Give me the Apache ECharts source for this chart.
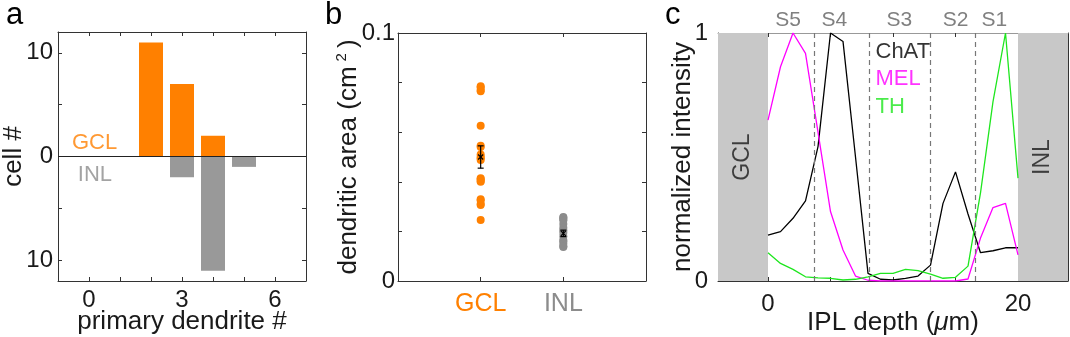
<!DOCTYPE html>
<html><head><meta charset="utf-8">
<script src="https://cdn.jsdelivr.net/npm/echarts@6/dist/echarts.min.js"></script>
<style>html,body{margin:0;padding:0;background:#fff}#c{width:1070px;height:337px}</style>
</head><body><div id="c"></div>
<script>
// ---------- Panel a: number of primary dendrites ----------
const aGCLDendrites = [2, 3, 4];
const aGCLCells = [11, 7, 2];
const aINLDendrites = [3, 4, 5];
const aINLCells = [2, 11, 1];
const aXTicks = [0, 1, 2, 3, 4, 5, 6];
const aXLabels = [0, 3, 6];
const aYTicks = [-10, -5, 0, 5, 10];
const aYLabels = [-10, 0, 10];

// ---------- Panel b: dendritic area ----------
const bCategories = ['GCL', 'INL'];
const bGCLArea = [0.0785, 0.078, 0.077, 0.0765, 0.0626, 0.0545, 0.054, 0.051, 0.050, 0.0495,
                  0.0488, 0.0414, 0.041, 0.0403, 0.040, 0.033, 0.0325, 0.031, 0.0306, 0.0246];
const bINLArea = [0.0258, 0.0255, 0.025, 0.0245, 0.023, 0.0215, 0.0205, 0.0195, 0.018, 0.0165,
                  0.016, 0.015, 0.014, 0.0137];
const bMean = [0.050, 0.0192];
const bSEM = [0.0045, 0.0013];
const bYTicks = [0, 0.02, 0.04, 0.06, 0.08, 0.1];
const bYLabels = [0, 0.1];

// ---------- Panel c: IPL stratification ----------
const cDepth = [0, 1, 2, 3, 4, 5, 6, 7, 8, 9, 10, 11, 12, 13, 14, 15, 16, 17, 18, 19, 20];
const cChAT = [0.185, 0.199, 0.253, 0.323, 0.542, 1.0, 0.966, 0.5, 0.031, 0.007, 0.004,
               0.011, 0.02, 0.064, 0.313, 0.44, 0.27, 0.114, 0.122, 0.134, 0.134];
const cMEL = [0.649, 0.864, 1.0, 0.918, 0.6, 0.28, 0.125, 0.02, 0.003, 0, 0,
              0, 0, 0, 0, 0, 0.008, 0.173, 0.296, 0.313, 0.105];
const cTH = [0.114, 0.071, 0.047, 0.017, 0.013, 0.011, 0.004, 0.007, 0.017, 0.031, 0.031,
             0.047, 0.042, 0.028, 0.011, 0.015, 0.06, 0.355, 0.723, 1.0, 0.415];
const cStrataBounds = [3.7, 8.1, 13.0, 16.6];
const cStrataNames = ['S5', 'S4', 'S3', 'S2', 'S1'];
const cStrataCenters = [1.6, 5.3, 10.5, 15.0, 18.1];
const cXTicks = [0, 5, 10, 15, 20];
const cXLabels = [0, 20];
const cYTicks = [0, 0.2, 0.4, 0.6, 0.8, 1];
const cYLabels = [0, 1];

const FONT = '"Liberation Sans", Arial, Helvetica, sans-serif';
const ORANGE = '#ff8000';
const GRAY = '#999999';
const AX = '#333333';
const TXT = '#1a1a1a';

function xAx(grid, min, max, ticks, labels, extra) {
  return Object.assign({
    type: 'value', gridIndex: grid, min: min, max: max, position: 'bottom',
    nameMoveOverlap: false,
    axisLine: { show: true, onZero: false, lineStyle: { color: AX, width: 1 } },
    axisTick: { show: true, inside: true, length: 4, customValues: ticks, lineStyle: { color: AX } },
    axisLabel: { show: true, customValues: labels, fontSize: 24, color: TXT, fontFamily: FONT, margin: 7 },
    splitLine: { show: false }
  }, extra || {});
}
function topAx(grid, min, max, ticks) {
  return {
    type: 'value', gridIndex: grid, min: min, max: max, position: 'top',
    axisLine: { show: true, onZero: false, lineStyle: { color: AX, width: 1 } },
    axisTick: { show: true, inside: true, length: 4, customValues: ticks, lineStyle: { color: AX } },
    axisLabel: { show: false }, splitLine: { show: false }
  };
}
function yAx(grid, min, max, ticks, labels, extra) {
  return Object.assign({
    type: 'value', gridIndex: grid, min: min, max: max, position: 'left',
    nameMoveOverlap: false,
    axisLine: { show: true, onZero: false, lineStyle: { color: AX, width: 1 } },
    axisTick: { show: true, inside: true, length: 4, customValues: ticks, lineStyle: { color: AX } },
    axisLabel: { show: true, customValues: labels, fontSize: 24, color: TXT, fontFamily: FONT, margin: 5 },
    splitLine: { show: false }
  }, extra || {});
}
function rightAx(grid, min, max, ticks) {
  return {
    type: 'value', gridIndex: grid, min: min, max: max, position: 'right',
    axisLine: { show: true, onZero: false, lineStyle: { color: AX, width: 1 } },
    axisTick: { show: true, inside: true, length: 4, customValues: ticks, lineStyle: { color: AX } },
    axisLabel: { show: false }, splitLine: { show: false }
  };
}

const nameStyle = { fontSize: 26, color: TXT, fontFamily: FONT };

const option = {
  animation: false,
  backgroundColor: '#ffffff',
  textStyle: { fontFamily: FONT },
  grid: [
    { left: 58, top: 32, width: 248, height: 249, outerBoundsMode: 'none', containLabel: false },
    { left: 398, top: 33, width: 248, height: 248, outerBoundsMode: 'none', containLabel: false },
    { left: 718, top: 33, width: 350, height: 248, outerBoundsMode: 'none', containLabel: false }
  ],
  xAxis: [
    xAx(0, -1, 7, aXTicks, aXLabels, {
      name: 'primary dendrite #', nameLocation: 'middle', nameGap: 28, nameTextStyle: nameStyle
    }),
    topAx(0, -1, 7, aXTicks),
    xAx(1, 0, 3, [1, 2], [1, 2], {
      axisLabel: {
        show: true, customValues: [1, 2], fontSize: 25, fontFamily: FONT, margin: 11,
        formatter: function (v) { return bCategories[Math.round(v) - 1]; },
        color: function (v) { return Math.round(v) === 1 ? ORANGE : '#8c8c8c'; }
      }
    }),
    topAx(1, 0, 3, [1, 2]),
    xAx(2, -4, 24, cXTicks, cXLabels, {
      axisLabel: { show: true, customValues: cXLabels, fontSize: 24, color: TXT, fontFamily: FONT, margin: 11 },
      name: '{n|IPL depth (}{i|μ}{n|m)}', nameLocation: 'middle', nameGap: 29,
      nameTextStyle: {
        rich: {
          n: { fontSize: 26, color: TXT, fontFamily: FONT },
          i: { fontSize: 26, color: TXT, fontFamily: FONT, fontStyle: 'italic' }
        }
      }
    }),
    Object.assign(topAx(2, -4, 24, cXTicks), {
      axisLine: { show: true, onZero: false, lineStyle: { color: '#999', width: 1 } },
      axisLabel: {
        show: true, customValues: cStrataCenters, fontSize: 21, color: '#808080', fontFamily: FONT, margin: 2,
        formatter: function (v) {
          let best = 0;
          cStrataCenters.forEach(function (c, i) { if (Math.abs(c - v) < Math.abs(cStrataCenters[best] - v)) best = i; });
          return cStrataNames[best];
        }
      }
    })
  ],
  yAxis: [
    yAx(0, -12, 12, aYTicks, aYLabels, {
      axisLabel: { show: true, customValues: aYLabels, fontSize: 24, color: TXT, fontFamily: FONT, margin: 5,
        formatter: function (v) { return String(Math.abs(v)); } },
      name: 'cell #', nameLocation: 'middle', nameRotate: 90, nameGap: 31, nameTextStyle: nameStyle
    }),
    rightAx(0, -12, 12, aYTicks),
    yAx(1, 0, 0.1, bYTicks, bYLabels, {
      axisLabel: { show: true, customValues: bYLabels, fontSize: 24, color: TXT, fontFamily: FONT, margin: 3,
        formatter: function (v) { return v === 0 ? '0' : String(v); } },
      name: '{n|dendritic area (cm}{s|2}{n|)}', nameLocation: 'middle', nameRotate: 90, nameGap: 34,
      nameTextStyle: {
        rich: {
          n: { fontSize: 26, color: TXT, fontFamily: FONT, lineHeight: 30 },
          s: { fontSize: 15, color: TXT, fontFamily: FONT, verticalAlign: 'top', lineHeight: 30, padding: [0, 5, 0, 5] }
        }
      }
    }),
    rightAx(1, 0, 0.1, bYTicks),
    yAx(2, 0, 1, cYTicks, cYLabels, {
      axisLabel: { show: true, customValues: cYLabels, fontSize: 24, color: TXT, fontFamily: FONT, margin: 10 },
      name: 'normalized intensity', nameLocation: 'middle', nameRotate: 90, nameGap: 22, nameTextStyle: nameStyle
    }),
    rightAx(2, 0, 1, cYTicks)
  ],
  series: [
    // ---- panel a ----
    {
      type: 'bar', xAxisIndex: 0, yAxisIndex: 0, barWidth: 24, barGap: '-100%',
      data: aGCLDendrites.map(function (d, i) { return [d, aGCLCells[i]]; }),
      itemStyle: { color: ORANGE },
      markLine: {
        silent: true, symbol: 'none', label: { show: false },
        lineStyle: { color: '#222', width: 1, type: 'solid' },
        data: [{ yAxis: 0 }]
      },
      z: 2
    },
    {
      type: 'bar', xAxisIndex: 0, yAxisIndex: 0, barWidth: 24, barGap: '-100%',
      data: aINLDendrites.map(function (d, i) { return [d, -aINLCells[i]]; }),
      itemStyle: { color: GRAY },
      z: 2
    },
    {
      type: 'scatter', xAxisIndex: 0, yAxisIndex: 0, symbolSize: 0, silent: true,
      data: [[-0.55, 1.3, 'GCL'], [-0.36, -1.8, 'INL']],
      label: {
        show: true, position: 'inside', align: 'left', fontSize: 22, fontFamily: FONT,
        formatter: function (p) { return '{t' + p.dataIndex + '|' + p.value[2] + '}'; },
        rich: { t0: { color: ORANGE, fontSize: 22 }, t1: { color: '#8c8c8c', fontSize: 22 } }
      }
    },
    // ---- panel b ----
    {
      type: 'scatter', xAxisIndex: 2, yAxisIndex: 2, symbolSize: 8,
      data: bGCLArea.map(function (v) { return [1, v]; }),
      itemStyle: { color: ORANGE, opacity: 1 }
    },
    {
      type: 'scatter', xAxisIndex: 2, yAxisIndex: 2, symbolSize: 8,
      data: bINLArea.map(function (v) { return [2, v]; }),
      itemStyle: { color: '#8c8c8c', opacity: 1 }
    },
    {
      type: 'custom', xAxisIndex: 2, yAxisIndex: 2, z: 5,
      data: bMean.map(function (m, i) { return [i + 1, m, bSEM[i]]; }),
      renderItem: function (params, api) {
        const x = api.value(0), m = api.value(1), e = api.value(2);
        const p = api.coord([x, m]), hi = api.coord([x, m + e]), lo = api.coord([x, m - e]);
        const cap = 3, s = 2.5, st = { stroke: '#000', lineWidth: 1.2 };
        return {
          type: 'group', children: [
            { type: 'line', shape: { x1: p[0], y1: hi[1], x2: p[0], y2: lo[1] }, style: st },
            { type: 'line', shape: { x1: p[0] - cap, y1: hi[1], x2: p[0] + cap, y2: hi[1] }, style: st },
            { type: 'line', shape: { x1: p[0] - cap, y1: lo[1], x2: p[0] + cap, y2: lo[1] }, style: st },
            { type: 'line', shape: { x1: p[0] - s, y1: p[1] - s, x2: p[0] + s, y2: p[1] + s }, style: st },
            { type: 'line', shape: { x1: p[0] - s, y1: p[1] + s, x2: p[0] + s, y2: p[1] - s }, style: st }
          ]
        };
      }
    },
    // ---- panel c ----
    {
      type: 'line', xAxisIndex: 4, yAxisIndex: 4, showSymbol: false, name: 'ChAT',
      data: cDepth.map(function (d, i) { return [d, cChAT[i]]; }),
      lineStyle: { color: '#000000', width: 1.3 }, itemStyle: { color: '#000' },
      markArea: {
        silent: true, itemStyle: { color: '#c8c8c8' },
        data: [[{ xAxis: -4 }, { xAxis: 0 }], [{ xAxis: 20 }, { xAxis: 24 }]]
      },
      markLine: {
        silent: true, symbol: 'none', label: { show: false },
        lineStyle: { color: '#777', width: 1.2, type: [5, 4] },
        data: cStrataBounds.map(function (v) { return { xAxis: v }; })
      }
    },
    {
      type: 'line', xAxisIndex: 4, yAxisIndex: 4, showSymbol: false, name: 'MEL',
      data: cDepth.map(function (d, i) { return [d, cMEL[i]]; }),
      lineStyle: { color: '#ff00ff', width: 1.3 }, itemStyle: { color: '#ff00ff' }
    },
    {
      type: 'line', xAxisIndex: 4, yAxisIndex: 4, showSymbol: false, name: 'TH',
      data: cDepth.map(function (d, i) { return [d, cTH[i]]; }),
      lineStyle: { color: '#1ee61e', width: 1.3 }, itemStyle: { color: '#1ee61e' }
    },
    {
      type: 'scatter', xAxisIndex: 4, yAxisIndex: 4, symbolSize: 0, silent: true, z: 10,
      data: [[-2, 0.5, 'GCL'], [22, 0.5, 'INL']],
      label: {
        show: true, position: 'inside', rotate: 90, fontSize: 23, color: TXT, fontFamily: FONT,
        formatter: function (p) { return p.value[2]; }
      }
    },
    {
      type: 'scatter', xAxisIndex: 4, yAxisIndex: 4, symbolSize: 0, silent: true, z: 10,
      data: [[8.6, 0.923, 'ChAT'], [8.6, 0.815, 'MEL'], [8.6, 0.703, 'TH']],
      label: {
        show: true, position: 'inside', align: 'left', fontSize: 22, fontFamily: FONT,
        formatter: function (p) { return '{t' + p.dataIndex + '|' + p.value[2] + '}'; },
        rich: {
          t0: { color: '#000', fontSize: 22 },
          t1: { color: '#ff00ff', fontSize: 22 },
          t2: { color: '#1ee61e', fontSize: 22 }
        }
      }
    }
  ],
  graphic: [
    { type: 'text', left: 6, top: 0, style: { text: 'a', fontSize: 31, fill: '#000', fontFamily: FONT } },
    { type: 'text', left: 325, top: 0, style: { text: 'b', fontSize: 31, fill: '#000', fontFamily: FONT } },
    { type: 'text', left: 665, top: 0, style: { text: 'c', fontSize: 31, fill: '#000', fontFamily: FONT } }
  ]
};

const chart = echarts.init(document.getElementById('c'), null, { renderer: 'canvas' });
chart.setOption(option);
</script>
</body></html>
